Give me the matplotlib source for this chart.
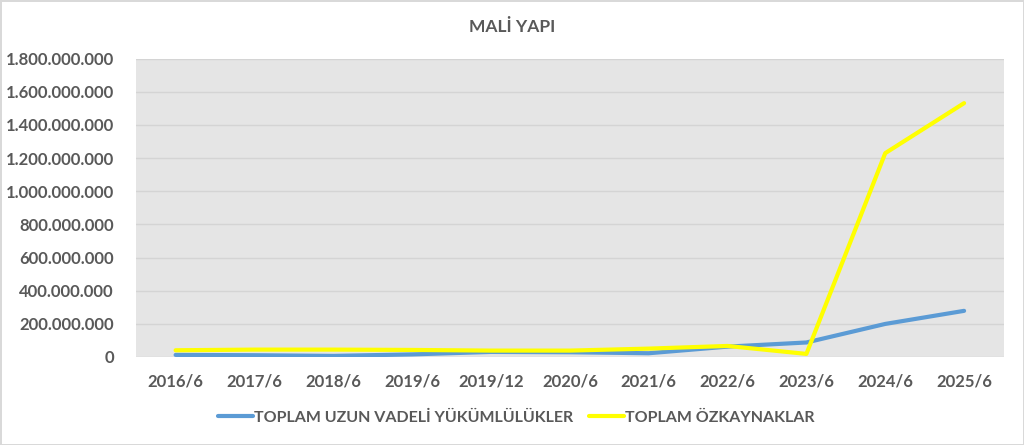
from matplotlib import pyplot as plt
from matplotlib.ticker import FuncFormatter
import numpy as np

#################
# Chart values  #
#################

periods = ['2016/6', '2017/6', '2018/6', '2019/6', '2019/12', '2020/6',
           '2021/6', '2022/6', '2023/6', '2024/6', '2025/6']
long_term = [12e6, 10e6, 6e6, 15e6, 30e6, 28e6, 22e6, 62e6, 87e6, 199e6, 278e6]
equity = [40e6, 44e6, 44e6, 42e6, 38e6, 38e6, 50e6, 66e6, 18e6, 1230e6, 1532e6]

plt.rcParams['font.family'] = ['Lato', 'DejaVu Sans']
grey = '#595959'

fig = plt.figure(figsize=(10.24, 4.45), dpi=100)
fig.patch.set_edgecolor('#d9d9d9')
fig.patch.set_linewidth(2)
ax = fig.add_axes([0.133, 0.198, 0.847, 0.67])
ax.set_facecolor('#e5e5e5')

x = np.arange(len(periods))
ax.plot(x, long_term, color='#5b9bd5', lw=3, solid_capstyle='round',
        label='TOPLAM UZUN VADELİ YÜKÜMLÜLÜKLER')
ax.plot(x, equity, color='#ffff00', lw=3, solid_capstyle='round',
        label='TOPLAM ÖZKAYNAKLAR')

ax.set_xlim(-0.5, len(periods) - 0.5)
ax.set_ylim(0, 1.8e9)
ax.set_yticks(np.arange(0, 1.8e9 + 1, 2e8))
ax.yaxis.set_major_formatter(FuncFormatter(lambda v, p: f'{v:,.0f}'.replace(',', '.')))
ax.set_xticks(x)
ax.set_xticklabels(periods)
ax.grid(axis='y', color='#d4d4d4', lw=1)
ax.set_axisbelow(True)
for s in ax.spines.values():
    s.set_visible(False)
ax.tick_params(length=0, labelsize=12, labelcolor=grey)
ax.tick_params(axis='y', pad=16)
ax.tick_params(axis='x', pad=12)
for t in ax.get_xticklabels() + ax.get_yticklabels():
    t.set_fontweight('bold')

fig.text(0.5, 0.94, 'MALİ YAPI', ha='center', va='center', fontsize=12.5,
         fontweight='bold', color=grey)
leg = fig.legend(loc='center', bbox_to_anchor=(0.504, 0.062), ncol=2, frameon=False,
                 handlelength=2.2, handletextpad=0.05, columnspacing=1.0,
                 prop={'size': 11.5, 'weight': 'bold'})
for t in leg.get_texts():
    t.set_color(grey)

fig.savefig('out.png', dpi=100, edgecolor=fig.get_edgecolor())
